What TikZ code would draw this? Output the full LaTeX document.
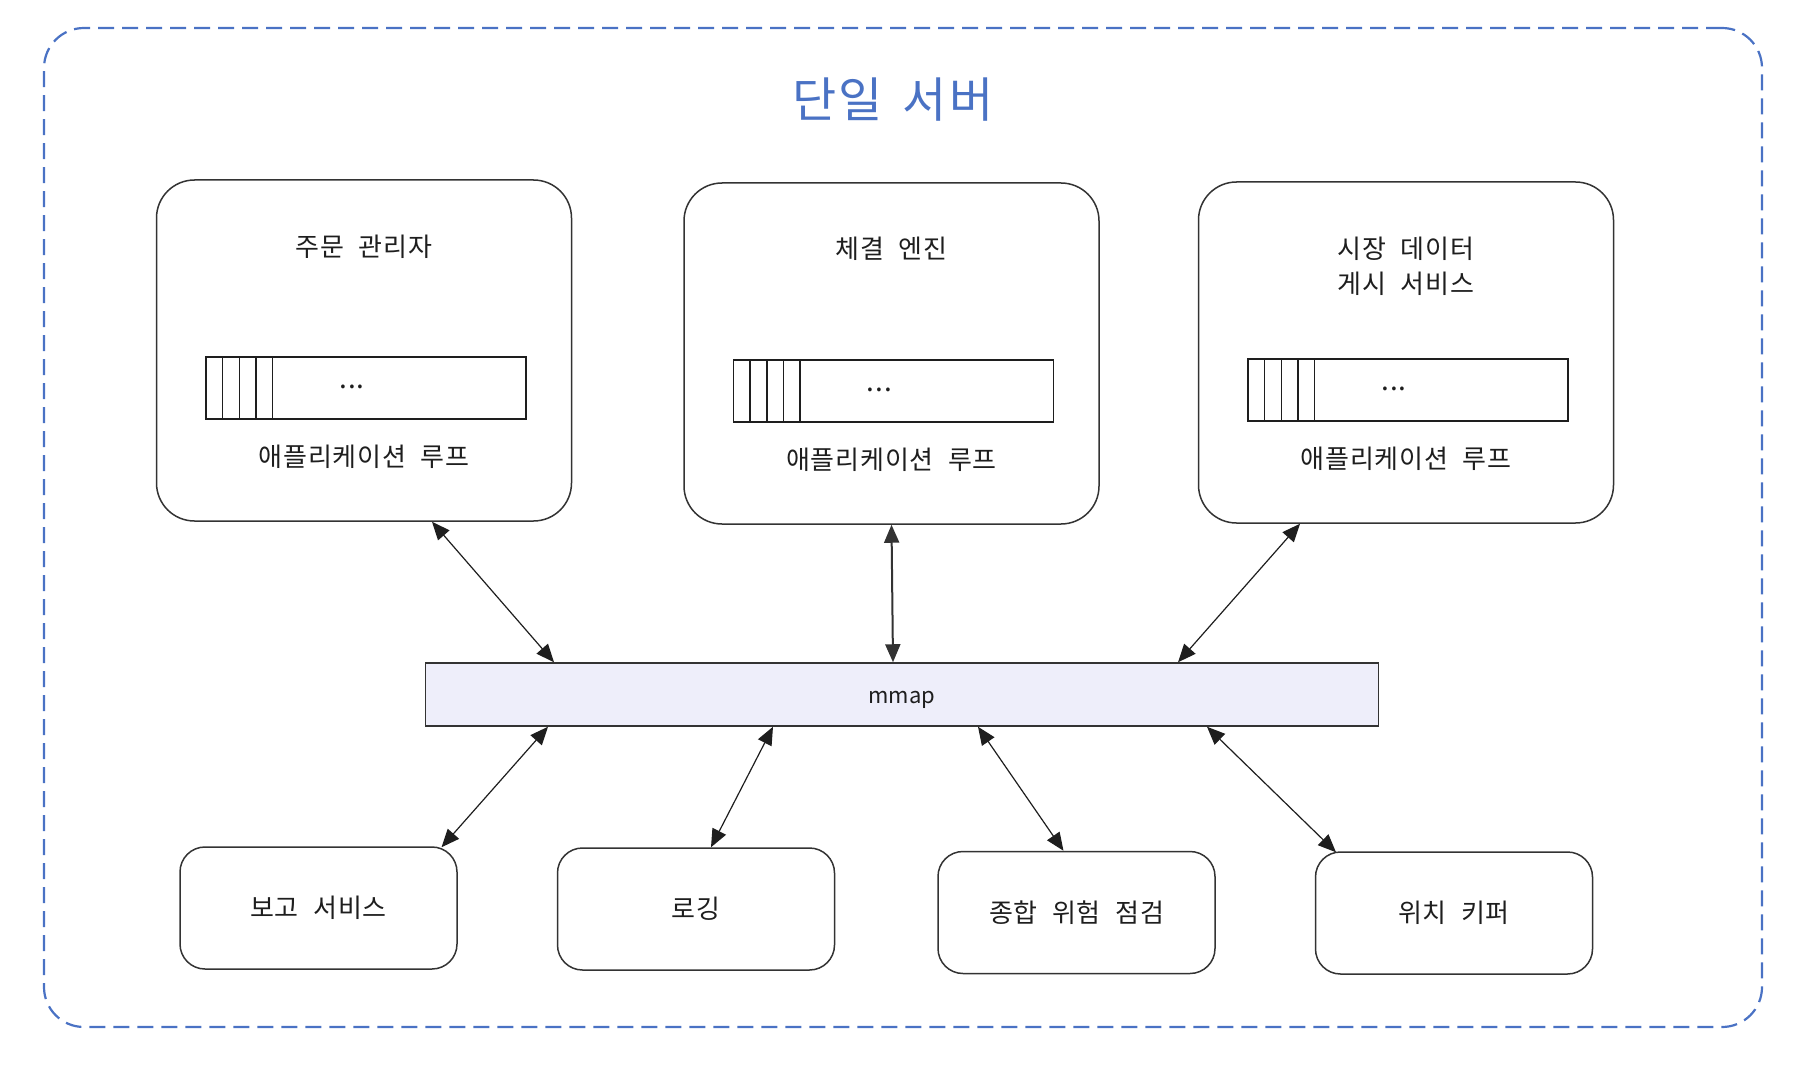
\documentclass[tikz,border=0pt]{standalone}
\usepackage{fontspec}
\setmainfont{Noto Sans CJK KR}
\newfontfamily\lblfont[WordSpace=2.2,LetterSpace=3]{Noto Sans CJK KR}
\newfontfamily\ttlfont[WordSpace=1.5,LetterSpace=5]{Noto Sans CJK KR}
\usetikzlibrary{arrows.meta}
\definecolor{frameblue}{HTML}{4A72C4}
\definecolor{edge}{HTML}{333333}
\definecolor{txt}{HTML}{1E1E1E}
\definecolor{mmapfill}{HTML}{EEEEFA}
\begin{document}
\begin{tikzpicture}[x=1pt,y=-1pt,
  every node/.style={text=txt},
  bigbox/.style={draw=edge,line width=1.5pt,rounded corners=38pt,minimum width=415pt,minimum height=341pt,inner sep=0pt},
  queue/.style={draw=txt,line width=1.2pt,minimum width=320pt,minimum height=62pt,inner sep=0pt},
  smallbox/.style={draw=edge,line width=1.5pt,rounded corners=25pt,minimum width=277pt,minimum height=122pt,inner sep=0pt,font=\lblfont\fontsize{26}{35}\selectfont},
  lbl/.style={font=\lblfont\fontsize{26}{35}\selectfont,align=center,inner sep=0pt},
  dots/.style={font=\fontsize{28}{28}\selectfont,anchor=base,inner sep=0pt},
  conn/.style={<->,>={Triangle[length=18pt,width=15pt]},line width=1.2pt,draw=txt},
  connv/.style={<->,>={Triangle[length=18pt,width=15pt]},line width=2pt,draw=edge},
]
\useasboundingbox (0,0) rectangle (1806,1078);

% outer dashed frame
\node[draw=frameblue,line width=2.2pt,dash pattern=on 16pt off 8pt,rounded corners=40pt,
      minimum width=1718pt,minimum height=999pt,inner sep=0pt] (frame) at (903,527.5) {};
\node[font=\ttlfont\fontsize{48}{54}\selectfont,text=frameblue,inner sep=0pt] (title) at (893,100) {단일 서버};

% top boxes
\node[bigbox] (b1) at (364,350.5) {};
\node[bigbox] (b2) at (891.5,353.5) {};
\node[bigbox] (b3) at (1406,352.5) {};

\node[lbl] (t1) at ([yshift=-68pt]b1.north) {주문 관리자};
\node[lbl] (t2) at ([yshift=-67pt]b2.north) {체결 엔진};
\node[lbl] (t3) at ([yshift=-85.5pt]b3.north) {시장 데이터\\게시 서비스};

\foreach \b in {b1,b2,b3}{
  \node[queue] (q\b) at ([xshift=2pt,yshift=-37.5pt]\b.center) {};
  \foreach \d in {17,34,50.5,67}
    \draw[line width=1.2pt,txt] ([xshift=\d pt]q\b.north west) -- ([xshift=\d pt]q\b.south west);
  \node[dots] (dd\b) at ([xshift=-14pt,yshift=-0.5pt]q\b.center) {.\kern1pt.\kern1pt.};
  \node[lbl] (loop\b) at ([yshift=-278pt]\b.north) {애플리케이션 루프};
}

% mmap
\node[draw=edge,line width=1.5pt,fill=mmapfill,minimum width=953pt,minimum height=63pt,inner sep=0pt] (mm) at (902,694.5) {};
\node[font=\fontsize{22}{26}\selectfont,inner sep=0pt] (mmt) at ([yshift=-5pt]mm.center) {mmap};

% bottom boxes
\node[smallbox] (s1) at (318.5,908) {보고 서비스};
\node[smallbox] (s2) at (696,909) {로깅};
\node[smallbox] (s3) at (1076.5,912.5) {종합 위험 점검};
\node[smallbox] (s4) at (1454,913) {위치 키퍼};

% connectors
\draw[conn] ([xshift=68pt]b1.south) -- ([xshift=-348pt]mm.north);
\draw[connv] (b2.south) -- ([xshift=-9pt]mm.north);
\draw[conn] ([xshift=-106pt]b3.south) -- ([xshift=276pt]mm.north);

\draw[conn] ([xshift=-354pt]mm.south) -- ([xshift=123pt,yshift=-1pt]s1.north);
\draw[conn] ([xshift=-129pt]mm.south) -- ([xshift=15pt]s2.north);
\draw[conn] ([xshift=76pt]mm.south) -- ([xshift=-13pt]s3.north);
\draw[conn] ([xshift=305pt]mm.south) -- ([xshift=-118pt,yshift=-1pt]s4.north);
\end{tikzpicture}
\end{document}
